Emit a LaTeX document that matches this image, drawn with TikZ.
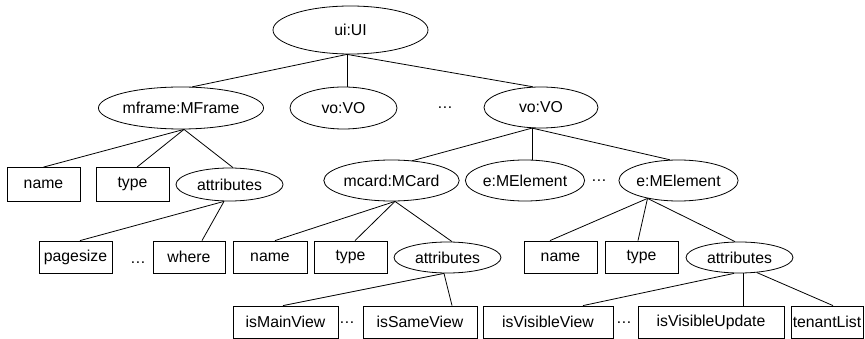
\documentclass[tikz,border=0pt]{standalone}
\usepackage{fontspec}
\setmainfont{Liberation Sans}
\usetikzlibrary{shapes.geometric,calc}
\begin{document}
\begin{tikzpicture}[x=1pt,y=-1pt,
  every node/.style={font=\fontsize{15.8}{19}\selectfont, inner sep=0pt, text=black},
  ell/.style={ellipse, draw=black, line width=0.8pt},
  fbox/.style={rectangle, draw=black, line width=0.8pt},
  dotsn/.style={},
  edge/.style={draw=black, line width=0.8pt}]
\useasboundingbox (0,0) rectangle (865,339);
% level 0
\node[ell, minimum width=155pt, minimum height=48pt] (ui) at (350.5,30) {ui:UI};
% level 1
\node[ell, minimum width=124pt, minimum height=42pt] (mframe) at (181,108) {mframe:MFrame};
\node[ell, minimum width=107pt, minimum height=42pt] (vo1) at (343.5,108) {vo:VO};
\node[dotsn] (dA) at (445,108) {\ldots};
\node[ell, minimum width=114pt, minimum height=41pt] (vo2) at (541,107.5) {vo:VO};
% level 2
\node[fbox, minimum width=73pt, minimum height=34pt] (name1) at (43.5,184.5) {name};
\node[fbox, minimum width=73pt, minimum height=34pt] (type1) at (132.5,184.5) {type};
\node[ell, minimum width=107pt, minimum height=33pt] (attr1) at (229.5,184.5) {attributes};
\node[ell, minimum width=121pt, minimum height=41pt] (mcard) at (391.5,180.5) {mcard:MCard};
\node[ell, minimum width=114pt, minimum height=41pt] (e1) at (525,180.5) {e:MElement};
\node[dotsn] (dB) at (599,181) {\ldots};
\node[ell, minimum width=113pt, minimum height=41pt] (e2) at (678.5,180.5) {e:MElement};
% level 3
\node[fbox, minimum width=73pt, minimum height=32pt] (pagesize) at (75.5,257) {pagesize};
\node[dotsn] (dC) at (138,263) {\ldots};
\node[fbox, minimum width=72pt, minimum height=32pt] (where) at (189,257) {where};
\node[fbox, minimum width=74pt, minimum height=32pt] (name2) at (270,257) {name};
\node[fbox, minimum width=73pt, minimum height=32pt] (type2) at (350.5,257) {type};
\node[ell, minimum width=107pt, minimum height=31pt] (attr2) at (447.5,257.5) {attributes};
\node[fbox, minimum width=73pt, minimum height=32pt] (name3) at (560.5,257) {name};
\node[fbox, minimum width=73pt, minimum height=32pt] (type3) at (641.5,257) {type};
\node[ell, minimum width=107pt, minimum height=31pt] (attr3) at (739.5,257.5) {attributes};
% level 4
\node[fbox, minimum width=105pt, minimum height=32pt] (mainv) at (285.5,322) {isMainView};
\node[dotsn] (dD) at (347,323) {\ldots};
\node[fbox, minimum width=114pt, minimum height=32pt] (samev) at (420,322) {isSameView};
\node[fbox, minimum width=130pt, minimum height=32pt] (visv) at (548,322) {isVisibleView};
\node[dotsn] (dE) at (624,323) {\ldots};
\node[fbox, minimum width=146pt, minimum height=32pt] (visu) at (711,322) {isVisibleUpdate};
\node[fbox, minimum width=72pt, minimum height=32pt] (tenant) at (827,322) {tenantList};
% connectors
\coordinate (uiS) at ($(ui.south)+(-3.5,0)$);
\draw[edge] (uiS) -- ($(mframe.north)+(11,0.3)$);
\draw[edge] (uiS) -- ($(vo1.north)+(3.5,0)$);
\draw[edge] (uiS) -- ($(vo2.north)+(-8,0.2)$);
\coordinate (vo2S) at ($(vo2.south)+(-9,-0.3)$);
\draw[edge] (vo2S) -- ($(mcard.north)+(20.5,1.2)$);
\draw[edge] (vo2S) -- ($(e1.north)+(7,0.1)$);
\draw[edge] (vo2S) -- ($(e2.north)+(-8.5,0.2)$);
\coordinate (mfS) at ($(mframe.south)+(3,0)$);
\draw[edge] (mfS) -- (name1.north);
\draw[edge] (mfS) -- ($(type1.north)+(4.5,0)$);
\draw[edge] (mfS) -- ($(attr1.north)+(3.5,0)$);
\coordinate (a1S) at ($(attr1.south)+(-5.5,0)$);
\draw[edge] (a1S) -- ($(pagesize.north)+(4.5,0)$);
\draw[edge] (a1S) -- ($(where.north)+(13,0)$);
\coordinate (mcS) at ($(mcard.south)+(3.5,0)$);
\draw[edge] (mcS) -- ($(name2.north)+(5,0)$);
\draw[edge] (mcS) -- ($(type2.north)+(4.5,0)$);
\draw[edge] (mcS) -- ($(attr2.north)+(4.5,0)$);
\coordinate (e2S) at (e2.210);
\draw[edge] (e2S) -- ($(name3.north)+(-10.5,0)$);
\draw[edge] (e2S) -- ($(type3.north)+(-3.5,0)$);
\draw[edge] (e2S) -- ($(attr3.north)+(-4.5,0)$);
\coordinate (a2S) at ($(attr2.south)+(-3.5,0)$);
\draw[edge] (a2S) -- ($(mainv.north)+(-2.5,0)$);
\draw[edge] (a2S) -- ($(samev.north)+(32,0)$);
\draw[edge] ($(attr3.south)+(-5.5,0)$) -- ($(visv.north)+(35,0)$);
\draw[edge] ($(attr3.south)+(3.5,0)$) -- ($(visu.north)+(32,0)$);
\draw[edge] (attr3.-41) -- ($(tenant.north)+(6,0)$);
\end{tikzpicture}
\end{document}
